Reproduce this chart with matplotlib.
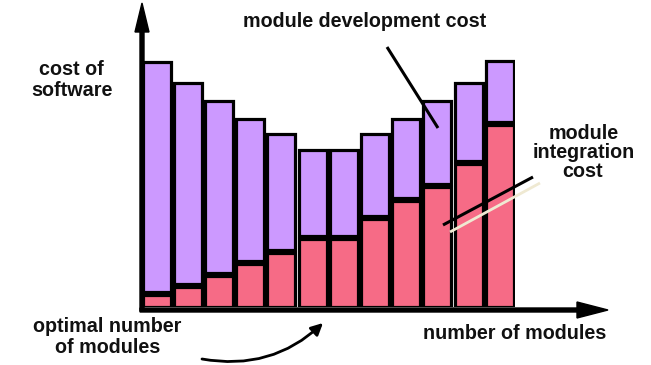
import matplotlib
matplotlib.use("Agg")
import matplotlib.pyplot as plt
from matplotlib.patches import FancyArrow

plt.rcParams['font.family'] = ['Liberation Sans', 'DejaVu Sans']

# ---- data (relative cost units) ----
modules = list(range(1, 13))
integration_cost = [12, 20, 31, 43, 54, 68, 68, 88, 106, 120, 143, 182]
development_cost = [233, 204, 175, 145, 119, 89, 89, 85, 82, 86, 81, 64]

PURPLE = "#CC99FF"
PINK = "#F66B86"
W, H = 651, 365
DPI = 100

fig = plt.figure(figsize=(W / DPI, H / DPI), dpi=DPI)

# main bar axes (1 value unit ~ 1 px)
base_px = 307
left_px, right_px = 141, 515.4
ax = fig.add_axes([left_px / W, (H - base_px) / H, (right_px - left_px) / W, base_px / H])
ax.set_xlim(0.5, 12.5)
ax.set_ylim(0, base_px)
ax.axis("off")

gap = 3.3  # visual gap between stacked segments (thick black seam)
lw = 2.3
ax.bar(modules, integration_cost, width=0.894, color=PINK, edgecolor="black", linewidth=lw, zorder=2)
ax.bar(modules, [d - gap for d in development_cost], width=0.894,
       bottom=[i + gap for i in integration_cost],
       color=PURPLE, edgecolor="black", linewidth=lw, zorder=2)

# overlay axes in pixel coordinates for axes arrows and annotations
ov = fig.add_axes([0, 0, 1, 1], facecolor="none")
ov.set_xlim(0, W)
ov.set_ylim(H, 0)
ov.axis("off")

ov.add_patch(FancyArrow(142, 311, 0, -308, width=4, head_width=14, head_length=29,
                        length_includes_head=True, color="black", zorder=5))
ov.add_patch(FancyArrow(140, 310, 468, 0, width=4, head_width=16, head_length=31,
                        length_includes_head=True, color="black", zorder=5))

fs = 14.2
tk = dict(fontsize=fs, fontweight="bold", ha="center", va="baseline", color="#111111")
ov.text(71, 75, "cost of", **tk)
ov.text(72, 96, "software", **tk)
ov.text(365, 26.7, "module development cost", **tk)
ov.text(584, 139.3, "module", **tk)
ov.text(584, 158.2, "integration", **tk)
ov.text(583, 176.8, "cost", **tk)
ov.text(107.5, 331.7, "optimal number", **tk)
ov.text(107.5, 353.3, "of modules", **tk)
ov.text(514.5, 339.3, "number of modules", **tk)

# pointer lines
ov.plot([387, 438], [47, 128], color="black", lw=2.2, solid_capstyle="butt", zorder=6)
ov.plot([443, 533], [225, 177], color="black", lw=2.2, solid_capstyle="butt", zorder=6)
ov.plot([450, 540], [232, 183], color="#EFE9D2", lw=2.0, solid_capstyle="butt", zorder=6)

# curved arrow to optimal number
ov.annotate("", xy=(323, 323), xytext=(202, 359),
            arrowprops=dict(arrowstyle="-|>,head_length=0.5,head_width=0.25", color="black", lw=2,
                            connectionstyle="arc3,rad=0.25", shrinkA=0, shrinkB=0, mutation_scale=14))

fig.savefig("out.png", dpi=DPI)
